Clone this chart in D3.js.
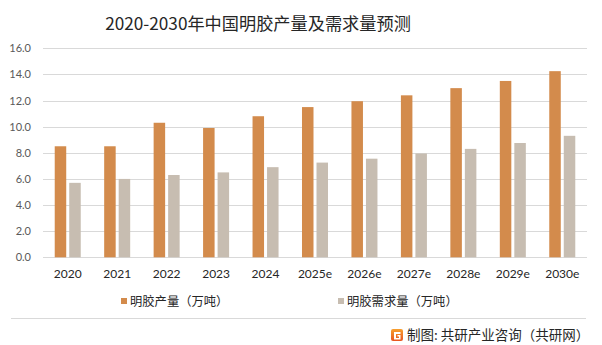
<!DOCTYPE html>
<html>
<head>
<meta charset="utf-8">
<script src="https://cdn.jsdelivr.net/npm/d3@7"></script>
<style>
  html, body { margin: 0; padding: 0; background: #fff; }
  svg { display: block; }
</style>
</head>
<body>
<script>
const categories = ["2020","2021","2022","2023","2024","2025e","2026e","2027e","2028e","2029e","2030e"];
const production = [8.5, 8.5, 10.3, 9.9, 10.8, 11.5, 11.95, 12.4, 12.95, 13.5, 14.25];
const demand = [5.7, 6.0, 6.3, 6.5, 6.9, 7.25, 7.55, 7.95, 8.3, 8.75, 9.3];
const yTicks = [0, 2, 4, 6, 8, 10, 12, 14, 16];
const seriesNames = ["明胶产量（万吨）", "明胶需求量（万吨）"];
const colors = ["#D38B4C", "#C7BDB1"];
const title = "2020-2030年中国明胶产量及需求量预测";
const source = "制图: 共研产业咨询（共研网）";

const W = 602, H = 345;
const svg = d3.select("body").append("svg").attr("width", W).attr("height", H);
const numFont = "Lato, 'Noto Sans', sans-serif";
const cjkFont = "'Noto Sans CJK SC', 'Noto Sans', sans-serif";

const plot = { left: 43, right: 587, top: 48.3, bottom: 257.3 };

const x = d3.scaleBand().domain(categories).range([plot.left, plot.right]).paddingInner(0.474).paddingOuter(0.237);
const x1 = d3.scaleBand().domain([0, 1]).range([0, x.bandwidth()]).paddingInner(0.207);
const y = d3.scaleLinear().domain([0, 16]).range([plot.bottom, plot.top]);

// title
svg.append("text").attr("x", 258).attr("y", 29.5).attr("text-anchor", "middle")
  .attr("font-family", cjkFont).attr("font-size", 17.2).attr("fill", "#262626").text(title);

// gridlines
svg.append("g").selectAll("line").data(yTicks).join("line")
  .attr("x1", plot.left).attr("x2", plot.right)
  .attr("y1", d => Math.round(y(d)) + 0.5).attr("y2", d => Math.round(y(d)) + 0.5)
  .attr("stroke", "#d9d9d9").attr("stroke-width", 1);

// y axis labels
const yAxis = d3.axisLeft(y).tickValues(yTicks).tickFormat(d3.format(".1f")).tickSize(0).tickPadding(0);
const gy = svg.append("g").attr("transform", "translate(31,0)").call(yAxis);
gy.select(".domain").remove();
gy.selectAll("text").attr("font-family", numFont).attr("font-size", 11).attr("fill", "#595959");

// bars
const data = categories.map((c, i) => ({ c, vals: [production[i], demand[i]] }));
const groups = svg.append("g").selectAll("g").data(data).join("g")
  .attr("transform", d => `translate(${x(d.c)},0)`);
groups.selectAll("rect").data(d => d.vals.map((v, k) => ({ v, k }))).join("rect")
  .attr("x", d => x1(d.k)).attr("width", x1.bandwidth())
  .attr("y", d => y(d.v)).attr("height", d => y(0) - y(d.v))
  .attr("fill", d => colors[d.k]);

// x axis labels
const xAxis = d3.axisBottom(x).tickSize(0).tickPadding(0);
const gx = svg.append("g").attr("transform", `translate(0,${plot.bottom + 12})`).call(xAxis);
gx.select(".domain").remove();
gx.selectAll("text").attr("font-family", numFont).attr("font-size", 12).attr("fill", "#262626");

// legend
const legendX = [121, 338];
const lg = svg.append("g").selectAll("g").data(seriesNames).join("g")
  .attr("transform", (d, i) => `translate(${legendX[i]},298)`);
lg.append("rect").attr("width", 6).attr("height", 6).attr("y", 0).attr("fill", (d, i) => colors[i]);
lg.append("text").attr("x", 9).attr("y", 7.5).attr("font-family", cjkFont).attr("font-size", 12.3)
  .attr("fill", "#262626").text(d => d);

// separator line
svg.append("line").attr("x1", 11).attr("x2", 586).attr("y1", 318.5).attr("y2", 318.5)
  .attr("stroke", "#d9d9d9").attr("stroke-width", 1);

// logo
const defs = svg.append("defs");
const grad = defs.append("linearGradient").attr("id", "lg").attr("x1", 0).attr("y1", 0).attr("x2", 0).attr("y2", 1);
grad.append("stop").attr("offset", 0).attr("stop-color", "#F7A030");
grad.append("stop").attr("offset", 1).attr("stop-color", "#E8541E");
const logo = svg.append("g").attr("transform", "translate(391,329)");
logo.append("rect").attr("width", 12).attr("height", 12).attr("rx", 2).attr("fill", "url(#lg)");
logo.append("path").attr("d", "M3,3 H9.5 V5 H5 V9 H8 V7.5 H6.5 V6 H9.5 V10.5 H3 Z").attr("fill", "#fff");

// source
svg.append("text").attr("x", 407).attr("y", 340).attr("font-family", cjkFont).attr("font-size", 13.5)
  .attr("fill", "#262626").text(source);
</script>
</body>
</html>
